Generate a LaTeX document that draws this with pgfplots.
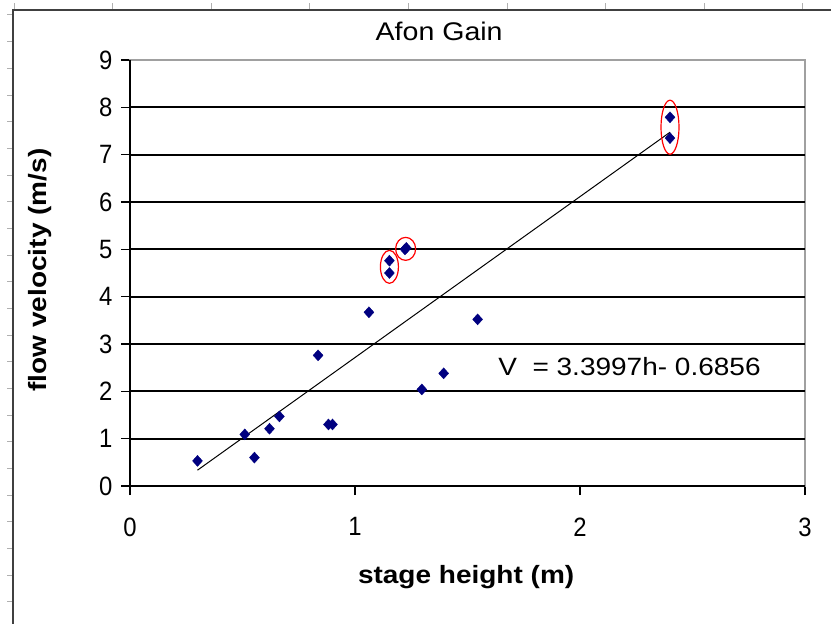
\documentclass[border=0pt]{standalone}
\usepackage{fontspec}
\setmainfont{Liberation Sans}[FakeStretch=1.12]
\newfontfamily\tickfont{Liberation Sans}[FakeStretch=0.9]
\usepackage{pgfplots}
\pgfplotsset{compat=1.18}
\definecolor{navy}{HTML}{000080}
\definecolor{framegray}{HTML}{A0A0A0}
\definecolor{rulergray}{HTML}{B0B0B0}
\begin{document}
\begin{tikzpicture}
\useasboundingbox (0,0) rectangle (831bp,624bp);
% screenshot ruler ticks and chart-area border
\foreach \k in {0,...,22} \draw[rulergray, line width=1bp] ({7bp},{(609-\k*26.67)*1bp}) -- ({12bp},{(609-\k*26.67)*1bp});
\foreach \k in {0,...,8} \draw[rulergray, line width=1bp] ({(14+\k*98.6)*1bp},{615bp}) -- ({(14+\k*98.6)*1bp},{621bp});
\draw[line width=1.6bp, black!75] (12.7bp,0) -- (12.7bp,614bp) -- (831bp,614bp);
\begin{axis}[
  at={(130bp,138bp)}, anchor=south west,
  width=675bp, height=426bp, scale only axis,
  xmin=0, xmax=3, ymin=0, ymax=9,
  xtick={0,1,2,3}, ytick={0,...,9},
  xtick pos=left, ytick pos=left,
  tick align=outside, major tick length=9bp,
  tick style={black, line width=1.3bp},
  axis line style={framegray, line width=1.6bp},
  /pgf/number format/assume math mode=true,
  ticklabel style={font=\tickfont\fontsize{26.5bp}{30bp}\selectfont},
  yticklabel style={xshift=-5bp},
  xticklabel style={yshift=-19bp},
  title={Afon Gain},
  title style={font=\fontsize{25.5bp}{30bp}\selectfont, at={(0.458,1)}, anchor=base, yshift=13.3bp},
  xlabel={stage height (m)}, ylabel={flow velocity (m/s)},
  label style={font=\bfseries\fontsize{25bp}{30bp}\selectfont},
  xlabel style={at={(axis description cs:0.498,-0.214)}, anchor=center},
  ylabel style={at={(axis description cs:-0.133,0.507)}, anchor=center},
  clip=false,
]
\pgfplotsinvokeforeach{1,...,8}{\draw[black, line width=1.8bp] (axis cs:0,#1) -- (axis cs:3,#1);}
\addplot[only marks, mark=diamond*, mark size=5.5bp, color=navy, mark options={fill=navy, xscale=1.2}] coordinates {
(0.30,0.53) (0.51,1.09) (0.553,0.60) (0.62,1.21) (0.664,1.47)
(0.836,2.76) (0.882,1.30) (0.90,1.30) (1.062,3.67)
(1.153,4.76) (1.153,4.50) (1.222,5.00) (1.228,5.03)
(1.297,2.04) (1.394,2.38) (1.545,3.52) (2.40,7.79) (2.40,7.35)
};
\addplot[black, line width=1bp] coordinates {(0.30,0.3343) (2.40,7.4737)};
\draw[red, line width=1.2bp] (axis cs:1.153,4.63) ellipse [x radius=9bp, y radius=16.5bp];
\draw[red, line width=1.2bp] (axis cs:1.225,5.01) ellipse [x radius=10bp, y radius=11.5bp];
\draw[red, line width=1.2bp] (axis cs:2.40,7.58) ellipse [x radius=9bp, y radius=27bp];
\draw[black, line width=1.8bp] (rel axis cs:0,1) -- (rel axis cs:0,0) -- (rel axis cs:1,0);
\node[font=\fontsize{25bp}{30bp}\selectfont, anchor=base west, inner sep=0pt] at (axis cs:1.636,2.345) {V\ \ = 3.3997h- 0.6856};
\end{axis}
\end{tikzpicture}
\end{document}
